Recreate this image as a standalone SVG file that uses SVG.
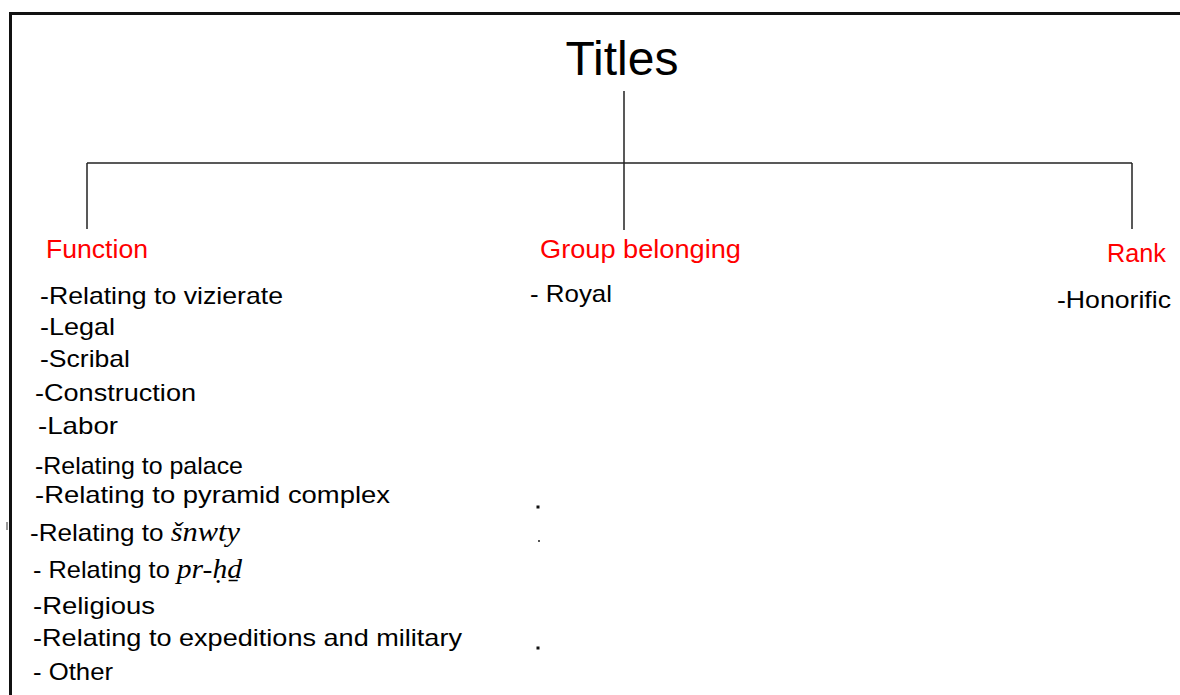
<svg xmlns="http://www.w3.org/2000/svg" width="1180" height="695" viewBox="0 0 1180 695">
<style>
.t{font-family:"Liberation Sans",Arial,sans-serif;fill:#000}
.h{font-family:"Liberation Sans",Arial,sans-serif;fill:#ff0000;font-size:25px}
.i{font-family:"Liberation Sans",Arial,sans-serif;fill:#000;font-size:24px}
.s{font-family:"Liberation Serif","Times New Roman",serif;font-style:italic}
.c{stroke:#222;stroke-width:1.5;fill:none}
</style>
<rect width="1180" height="695" fill="#fff"/>
<g id="frame">
<path d="M10.5 700 V13.5 H1185" fill="none" stroke="#111" stroke-width="3"/>
<path d="M7 522 V530" stroke="#333" stroke-width="1"/>
</g>
<g id="connectors">
<path class="c" d="M624 91 V230"/>
<path class="c" d="M87 163 H1132"/>
<path class="c" d="M87 163 V229"/>
<path class="c" d="M1132 163 V229" stroke="#999"/>
</g>
<g id="titles"><text class="t" x="622" y="75" font-size="48" text-anchor="middle">Titles</text></g>
<g id="function">
<text class="h" x="46" y="258" textLength="102" lengthAdjust="spacingAndGlyphs">Function</text>
<text class="i" x="40" y="304" textLength="243" lengthAdjust="spacingAndGlyphs">-Relating to vizierate</text>
<text class="i" x="40" y="335" textLength="75" lengthAdjust="spacingAndGlyphs">-Legal</text>
<text class="i" x="40" y="367" textLength="90" lengthAdjust="spacingAndGlyphs">-Scribal</text>
<text class="i" x="35" y="401" textLength="161" lengthAdjust="spacingAndGlyphs">-Construction</text>
<text class="i" x="38" y="434" textLength="80" lengthAdjust="spacingAndGlyphs">-Labor</text>
<text class="i" x="35" y="474" textLength="208" lengthAdjust="spacingAndGlyphs">-Relating to palace</text>
<text class="i" x="35" y="503" textLength="355" lengthAdjust="spacingAndGlyphs">-Relating to pyramid complex</text>
<text class="i" x="30" y="541" textLength="210" lengthAdjust="spacingAndGlyphs">-Relating to <tspan class="s" font-size="28">šnwty</tspan></text>
<text class="i" x="33" y="578" textLength="209" lengthAdjust="spacingAndGlyphs">- Relating to <tspan class="s" font-size="28">pr-ḥḏ</tspan></text>
<text class="i" x="33" y="614" textLength="122" lengthAdjust="spacingAndGlyphs">-Religious</text>
<text class="i" x="33" y="646" textLength="429" lengthAdjust="spacingAndGlyphs">-Relating to expeditions and military</text>
<text class="i" x="33" y="680" textLength="80" lengthAdjust="spacingAndGlyphs">- Other</text>
</g>
<g id="group-belonging">
<text class="h" x="540" y="258" textLength="201" lengthAdjust="spacingAndGlyphs">Group belonging</text>
<text class="i" x="530" y="302" textLength="82" lengthAdjust="spacingAndGlyphs">- Royal</text>
<rect x="536.5" y="505.5" width="3" height="3" fill="#111"/>
<rect x="538" y="540" width="2" height="2" fill="#555"/>
<rect x="536.5" y="646.5" width="3" height="3" fill="#111"/>
</g>
<g id="rank">
<text class="h" x="1107" y="262" textLength="59" lengthAdjust="spacingAndGlyphs">Rank</text>
<text class="i" x="1057" y="308" textLength="114" lengthAdjust="spacingAndGlyphs">-Honorific</text>
</g>
</svg>
